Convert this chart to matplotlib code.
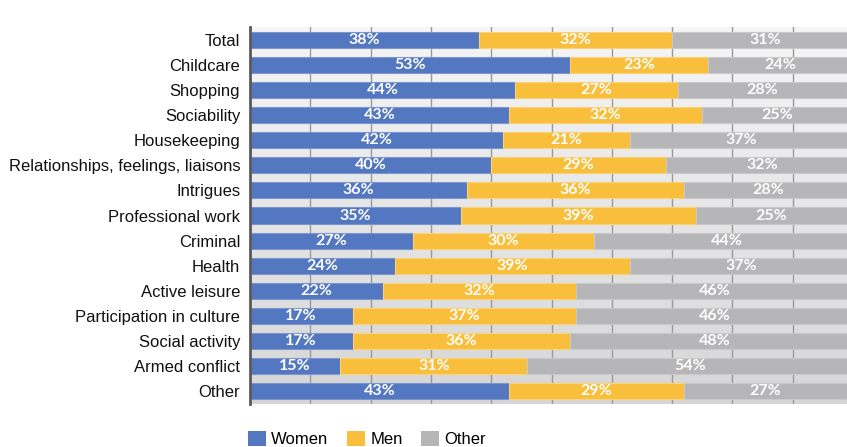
import matplotlib.pyplot as plt
import numpy as np
from matplotlib.patches import Patch

categories = ["Total", "Childcare", "Shopping", "Sociability", "Housekeeping",
              "Relationships, feelings, liaisons", "Intrigues", "Professional work",
              "Criminal", "Health", "Active leisure", "Participation in culture",
              "Social activity", "Armed conflict", "Other"]
women = [38, 53, 44, 43, 42, 40, 36, 35, 27, 24, 22, 17, 17, 15, 43]
men = [32, 23, 27, 32, 21, 29, 36, 39, 30, 39, 32, 37, 36, 31, 29]
other = [31, 24, 28, 25, 37, 32, 28, 25, 44, 37, 46, 46, 48, 54, 27]
series_names = ["Women", "Men", "Other"]

colors = ["#5377c0", "#f9bf3c", "#b6b6b8"]
edges = ["#7c97d0", "#fbd27a", "#c9c9cb"]

W, H = 847, 447
fig = plt.figure(figsize=(W / 100, H / 100), dpi=100)
ax = fig.add_axes([250 / W, 43 / H, 597 / W, 377 / H])

n = len(categories)
y = np.arange(n)
xmax = 99.0
ax.set_xlim(0, xmax)
ax.set_ylim(n - 0.5, -0.5)

# soft vertical gradient behind the bars
grad = np.linspace(0, 1, 256).reshape(-1, 1)
top_c = np.array([0.965, 0.965, 0.965])
bot_c = np.array([0.84, 0.84, 0.84])
img = top_c + (bot_c - top_c) * grad[..., None]
img = np.repeat(img, 2, axis=1)
ax.imshow(img, extent=[0, xmax, n - 0.5, -0.5], aspect="auto", zorder=0,
          interpolation="bicubic")

for gx in np.arange(10, 100, 10):
    ax.axvline(gx, color="#9a9a9a", lw=1.0, zorder=1)

left = np.zeros(n)
for vals, c, ec in zip([women, men, other], colors, edges):
    vals = np.array(vals, dtype=float)
    ax.barh(y, vals, left=left, height=0.64, color=c, edgecolor=ec,
            linewidth=0.8, zorder=2)
    for yi, l, v in zip(y, left, vals):
        ax.text(l + v / 2, yi, f"{int(v)}%", ha="center", va="center",
                color="white", fontsize=11.5, fontweight="bold",
                family="Lato", zorder=3)
    left += vals

ax.set_yticks(y)
ax.set_yticklabels(categories, fontsize=12, family="Liberation Sans",
                   color="#111111")
ax.tick_params(axis="y", length=0, pad=7)
ax.set_xticks([])
for s in ["top", "right", "bottom"]:
    ax.spines[s].set_visible(False)
ax.spines["left"].set_color("#5a5a5a")
ax.spines["left"].set_linewidth(2)
ax.spines["left"].set_zorder(4)

handles = [Patch(facecolor=c, edgecolor="none") for c in colors]
fig.legend(handles, series_names, loc="center left",
           bbox_to_anchor=(248 / W, 1 - 439 / H), ncol=3, frameon=False,
           borderpad=0, borderaxespad=0, handlelength=1.1, handleheight=1.0,
           handletextpad=0.3, columnspacing=1.1,
           prop={"family": "Liberation Sans", "size": 12})

fig.savefig("out.png", dpi=100)
